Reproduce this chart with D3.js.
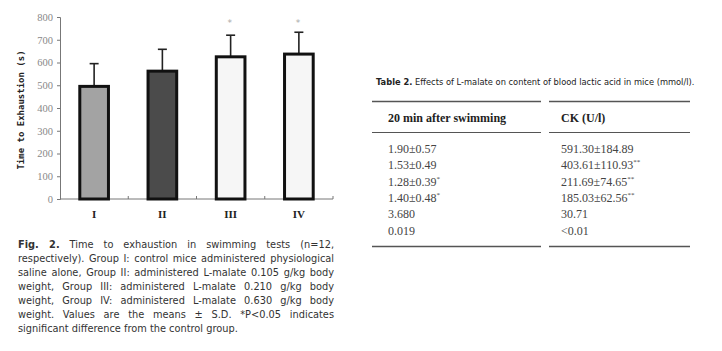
<!DOCTYPE html>
<html>
<head>
<meta charset="utf-8">
<script src="https://cdn.jsdelivr.net/npm/d3@7"></script>
<style>
  body { margin: 0; background: #fff; }
  #wrap { position: relative; width: 722px; height: 351px; overflow: hidden; }
  svg { position: absolute; left: 0; top: 0; }
  #caption { position: absolute; left: 18px; top: 238px; width: 316px;
    font-family: "DejaVu Sans", Verdana, sans-serif; font-size: 9.8px; color: #333; line-height: 14px; }
  #caption div { white-space: nowrap; }
  #caption div.j { text-align: justify; text-align-last: justify; }
</style>
</head>
<body>
<div id="wrap">
<svg id="chart" width="722" height="351"></svg>
<div id="caption"></div>
</div>
<script>
// bar chart data (time to exhaustion, seconds)
const groups = ["I", "II", "III", "IV"];
const means = [495, 562, 625, 637];
const sds = [100, 96, 95, 96];
const signif = ["", "", "*", "*"];
const fills = ["#a3a3a3", "#4b4b4b", "#f6f6f6", "#f6f6f6"];
const yTicks = [0, 100, 200, 300, 400, 500, 600, 700, 800];

// table data
const tableHead = ["20 min after swimming", "CK (U/l)"];
const lacticCol = ["1.90\u00b10.57", "1.53\u00b10.49", "1.28\u00b10.39", "1.40\u00b10.48", "3.680", "0.019"];
const lacticSup = ["", "", "*", "*", "", ""];
const ckCol = ["591.30\u00b1184.89", "403.61\u00b1110.93", "211.69\u00b174.65", "185.03\u00b162.56", "30.71", "<0.01"];
const ckSup = ["", "**", "**", "**", "", ""];

const captionLines = [
  ["Fig. 2.", " Time to exhaustion in swimming tests (n=12,"],
  ["", "respectively). Group I: control mice administered physiological"],
  ["", "saline alone, Group II: administered L-malate 0.105 g/kg body"],
  ["", "weight, Group III: administered L-malate 0.210 g/kg body"],
  ["", "weight, Group IV: administered L-malate 0.630 g/kg body"],
  ["", "weight. Values are the means \u00b1 S.D. *P<0.05 indicates"],
  ["", "significant difference from the control group."]
];

let svg = d3.select("#chart");
svg.append("rect").attr("width", 722).attr("height", 351).attr("fill", "#fff");

let mLeft = 60, mRight = 333, mTop = 17, mBottom = 199;

let yScale = d3.scaleLinear().domain([0, 800]).range([mBottom, mTop]);
let xScale = d3.scaleBand().domain(groups).range([mLeft, mRight]).paddingInner(0.58).paddingOuter(0.29);
let xBand = d3.scaleBand().domain(groups).range([mLeft, mRight]);

let g = svg.append("g");

// y axis
let yAxis = d3.axisLeft(yScale).tickValues(yTicks).tickSize(3).tickPadding(4);
let ya = g.append("g").attr("transform", "translate(" + mLeft + ",0)").call(yAxis);
ya.select(".domain").attr("stroke", "#777");
ya.selectAll(".tick line").attr("stroke", "#777");
ya.selectAll("text").attr("fill", "#888").style("font-family", "'Liberation Serif', serif").style("font-size", "10.5px");

// x axis with ticks on band edges, pointing up
g.append("line").attr("x1", mLeft).attr("x2", mRight).attr("y1", mBottom).attr("y2", mBottom).attr("stroke", "#777");
g.selectAll(".xt").data(groups).enter().append("line")
  .attr("x1", d => xBand(d) + xBand.bandwidth()).attr("x2", d => xBand(d) + xBand.bandwidth())
  .attr("y1", mBottom).attr("y2", mBottom - 3).attr("stroke", "#777");
g.selectAll(".xl").data(groups).enter().append("text")
  .attr("x", d => xBand(d) + xBand.bandwidth() / 2).attr("y", mBottom + 19)
  .attr("text-anchor", "middle").attr("fill", "#222")
  .style("font-family", "'Liberation Serif', serif").style("font-weight", "bold").style("font-size", "11px")
  .text(d => d);

// y label
g.append("text").attr("transform", "translate(24," + ((mTop + mBottom) / 2 + 2) + ") rotate(-90)")
  .attr("text-anchor", "middle").attr("fill", "#222")
  .style("font-family", "'DejaVu Sans Mono', monospace").style("font-weight", "bold").style("font-size", "9px")
  .text("Time to Exhaustion (s)");

// error bars (upper only)
let bw = xScale.bandwidth();
groups.forEach((d, i) => {
  let cx = xScale(d) + bw / 2;
  g.append("line").attr("x1", cx).attr("x2", cx)
    .attr("y1", yScale(means[i])).attr("y2", yScale(means[i] + sds[i])).attr("stroke", "#222").attr("stroke-width", 1.6);
  g.append("line").attr("x1", cx - 4.5).attr("x2", cx + 4.5)
    .attr("y1", yScale(means[i] + sds[i])).attr("y2", yScale(means[i] + sds[i])).attr("stroke", "#222").attr("stroke-width", 1.6);
  if (signif[i]) {
    g.append("text").attr("x", cx - 1).attr("y", yScale(800) + 9).attr("text-anchor", "middle")
      .attr("fill", "#aaa").style("font-family", "'DejaVu Sans', sans-serif").style("font-size", "9px").text(signif[i]);
  }
});

// bars
g.selectAll(".bar").data(groups).enter().append("rect")
  .attr("x", d => xScale(d)).attr("width", bw)
  .attr("y", (d, i) => yScale(means[i])).attr("height", (d, i) => mBottom - yScale(means[i]))
  .attr("fill", (d, i) => fills[i]).attr("stroke", "#111").attr("stroke-width", 3);

// caption
let cap = d3.select("#caption");
captionLines.forEach((l, i) => {
  let div = cap.append("div").attr("class", i < captionLines.length - 1 ? "j" : "");
  if (l[0]) div.append("b").text(l[0]);
  div.append("span").text(l[1]);
});

// table
let t = svg.append("g");
t.append("text").attr("x", 376).attr("y", 85).attr("fill", "#222")
  .style("font-family", "'DejaVu Sans', sans-serif").style("font-size", "8.3px")
  .html("<tspan font-weight='bold'>Table 2.</tspan> Effects of L-malate on content of blood lactic acid in mice (mmol/l).");

let colX = [388, 561];
let colRule = [[372, 541], [549, 690]];
let rules = [101.5, 132.5, 246.5];
rules.forEach((ry, k) => {
  colRule.forEach(c => {
    t.append("line").attr("x1", c[0]).attr("x2", c[1]).attr("y1", ry).attr("y2", ry)
      .attr("stroke", "#555").attr("stroke-width", k === 1 ? 1.2 : 1.5);
  });
});
tableHead.forEach((h, i) => {
  t.append("text").attr("x", colX[i]).attr("y", 122).attr("fill", "#222")
    .style("font-family", "'Liberation Serif', serif").style("font-weight", "bold").style("font-size", "12px").text(h);
});
let rowY = d3.scaleLinear().domain([0, 5]).range([153, 234.5]);
[[lacticCol, lacticSup], [ckCol, ckSup]].forEach((col, ci) => {
  col[0].forEach((v, r) => {
    let tx = t.append("text").attr("x", colX[ci]).attr("y", rowY(r)).attr("fill", "#444")
      .style("font-family", "'Liberation Serif', serif").style("font-size", "12px");
    tx.append("tspan").text(v);
    if (col[1][r]) tx.append("tspan").attr("dy", -5).style("font-size", "7px").text(col[1][r]);
  });
});
</script>
</body>
</html>
